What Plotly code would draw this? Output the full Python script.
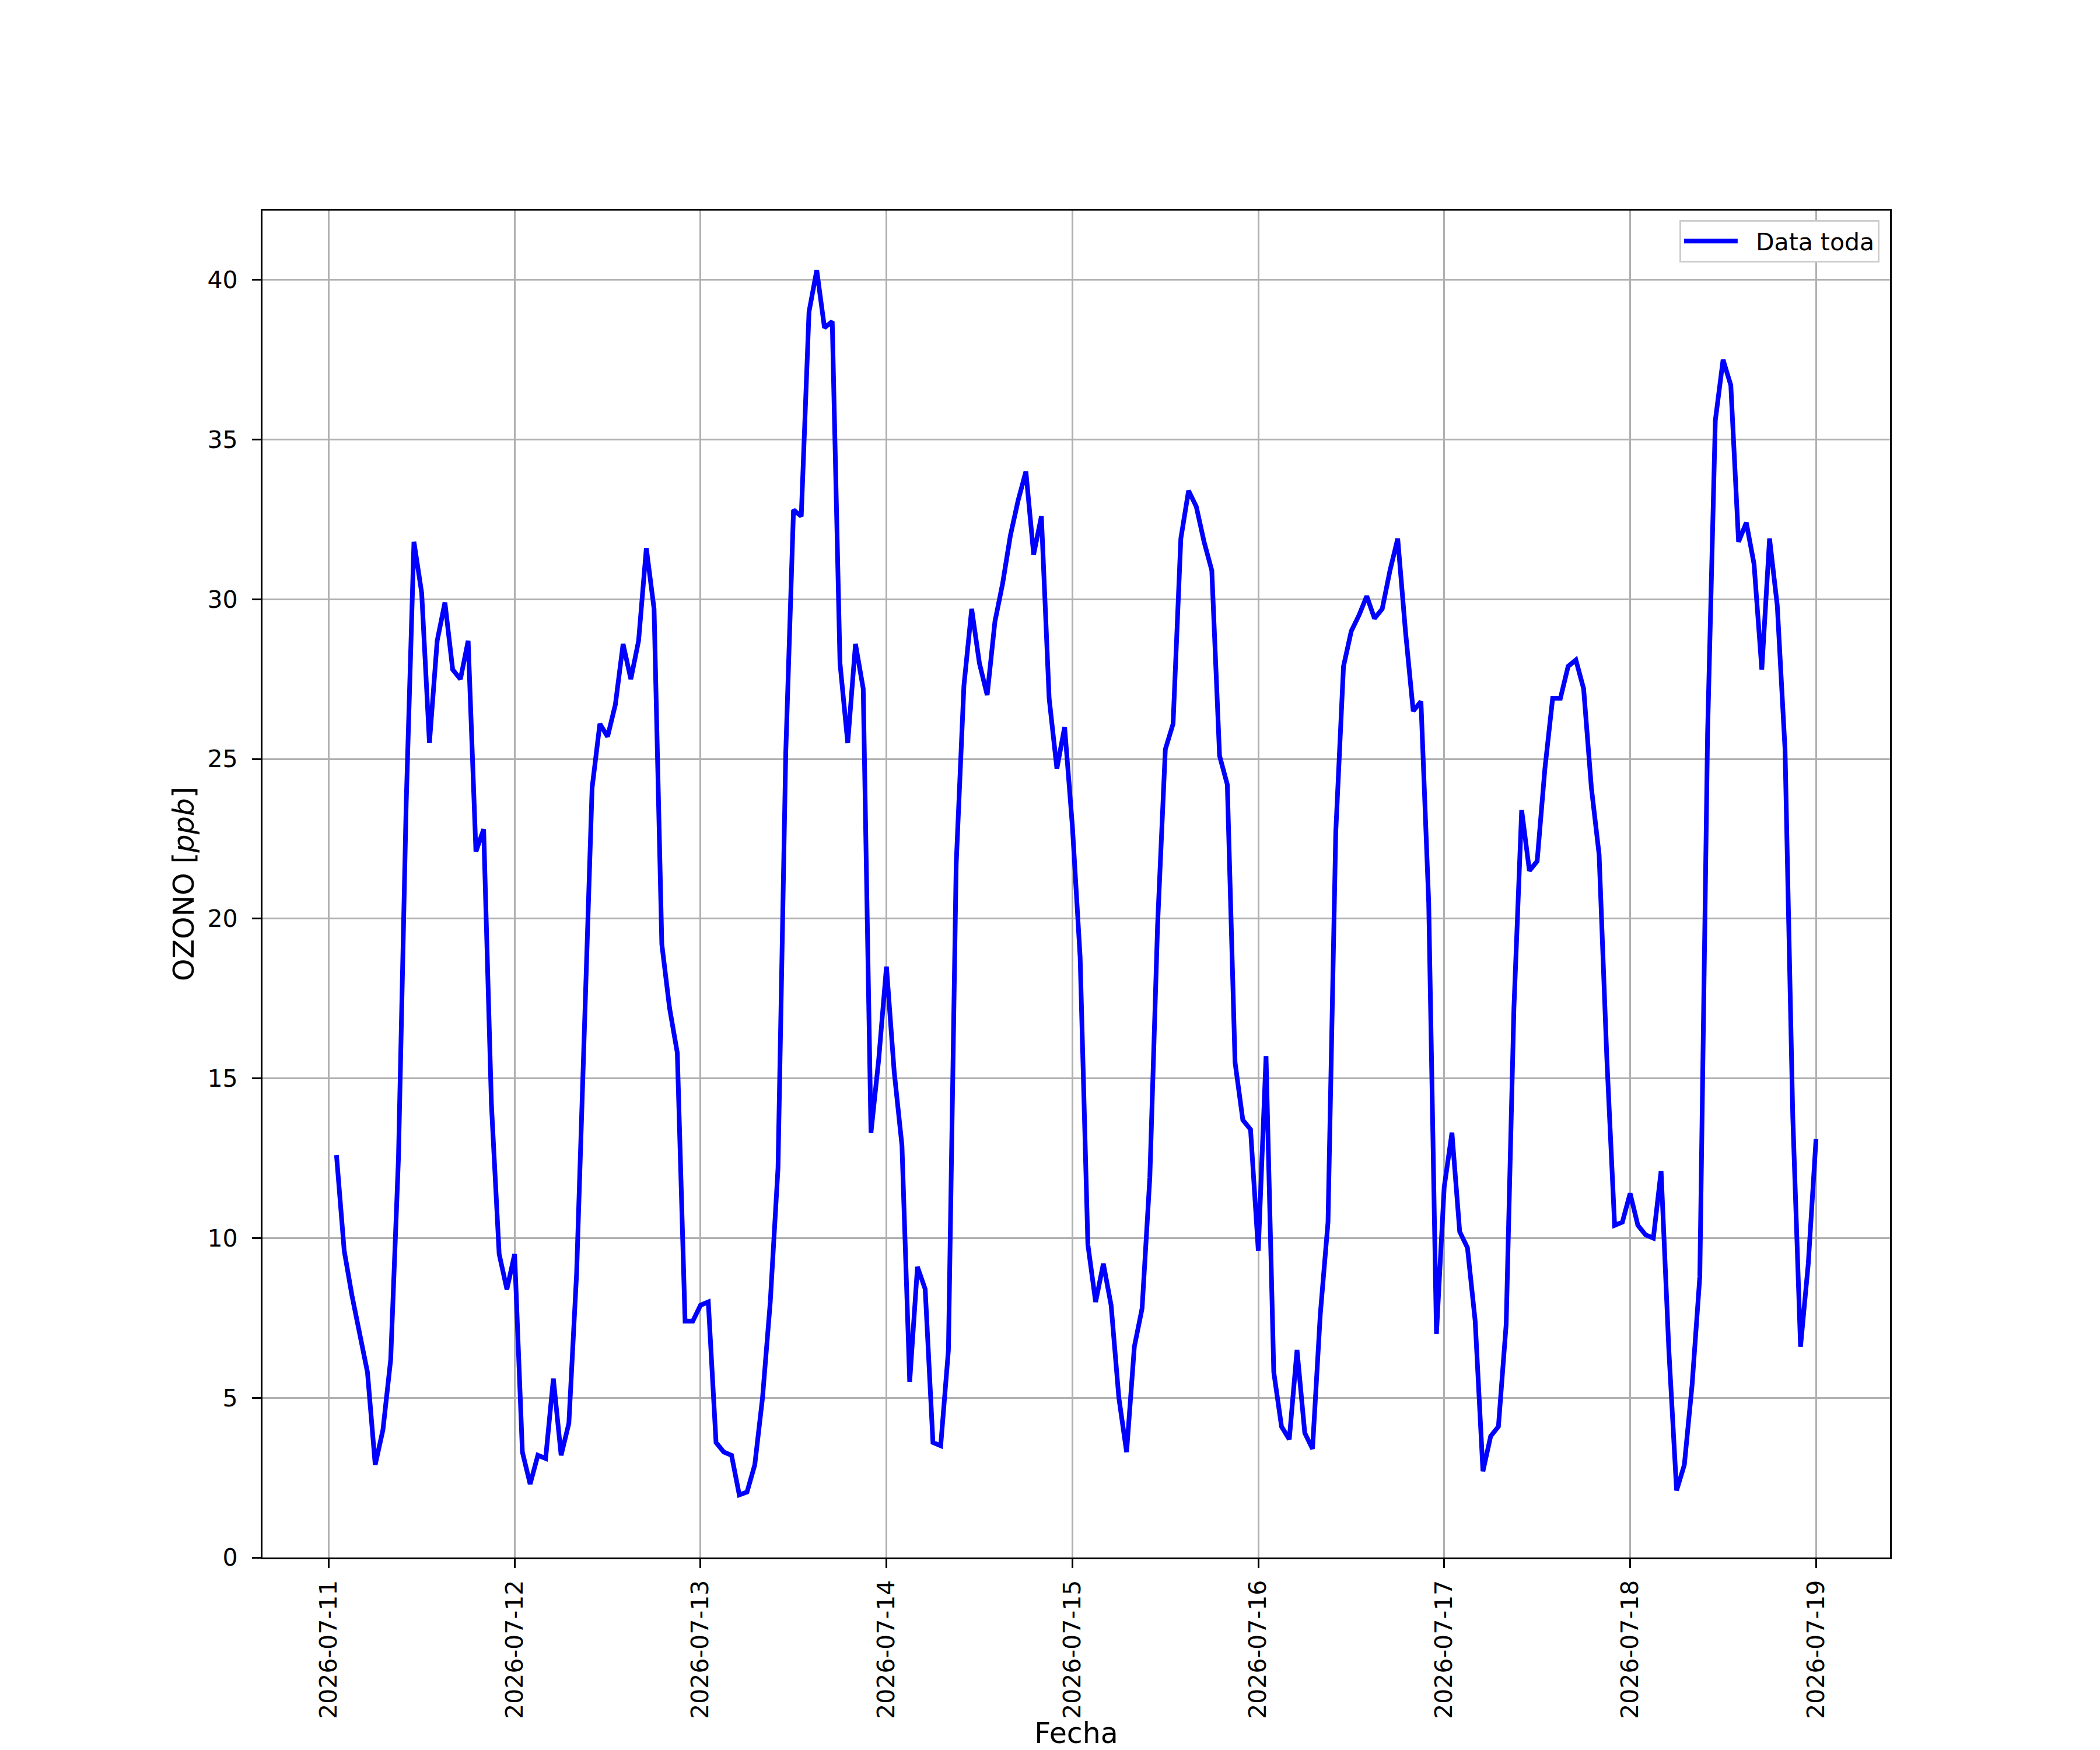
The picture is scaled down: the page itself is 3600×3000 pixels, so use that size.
import pandas as pd
import plotly.graph_objects as go

# hourly ozone readings, one list per day (01:00 .. 24:00)
ozono_0711 = [12.6, 9.6, 8.2, 7.0, 5.8, 2.9, 4.0, 6.2, 12.5, 23.6, 31.8, 30.2,
              25.5, 28.7, 29.9, 27.8, 27.5, 28.7, 22.1, 22.8, 14.2, 9.5, 8.4, 9.5]
ozono_0712 = [3.3, 2.3, 3.2, 3.1, 5.6, 3.2, 4.2, 8.9, 16.0, 24.1, 26.1, 25.7,
              26.7, 28.6, 27.5, 28.7, 31.6, 29.7, 19.2, 17.2, 15.8, 7.4, 7.4, 7.9]
ozono_0713 = [8.0, 3.6, 3.3, 3.2, 1.96, 2.05, 2.9, 5.0, 8.0, 12.2, 25.2, 32.8,
              32.6, 39.0, 40.3, 38.5, 38.7, 28.0, 25.5, 28.6, 27.2, 13.3, 15.6, 18.5]
ozono_0714 = [15.2, 12.9, 5.5, 9.1, 8.4, 3.6, 3.5, 6.5, 21.7, 27.3, 29.7, 28.0,
              27.0, 29.3, 30.5, 32.0, 33.1, 34.0, 31.4, 32.6, 26.9, 24.7, 26.0, 22.9]
ozono_0715 = [18.8, 9.8, 8.0, 9.2, 7.9, 5.0, 3.3, 6.6, 7.8, 11.9, 19.8, 25.3,
              26.1, 31.9, 33.4, 32.9, 31.8, 30.9, 25.1, 24.2, 15.5, 13.7, 13.4, 9.6]
ozono_0716 = [15.7, 5.8, 4.1, 3.7, 6.5, 3.9, 3.4, 7.6, 10.5, 22.7, 27.9, 29.0,
              29.5, 30.1, 29.4, 29.7, 30.9, 31.9, 29.0, 26.5, 26.8, 20.5, 7.0, 11.6]
ozono_0717 = [13.3, 10.2, 9.7, 7.4, 2.7, 3.8, 4.1, 7.3, 17.2, 23.4, 21.5, 21.8,
              24.7, 26.9, 26.9, 27.9, 28.1, 27.2, 24.1, 22.0, 15.6, 10.4, 10.5, 11.4]
ozono_0718 = [10.4, 10.1, 10.0, 12.1, 6.5, 2.1, 2.9, 5.4, 8.8, 25.8, 35.6, 37.5,
              36.7, 31.8, 32.4, 31.1, 27.8, 31.9, 29.8, 25.3, 13.8, 6.6, 9.2, 13.1]

ozono = (ozono_0711 + ozono_0712 + ozono_0713 + ozono_0714
         + ozono_0715 + ozono_0716 + ozono_0717 + ozono_0718)
fechas = pd.date_range("2026-07-11 01:00", periods=len(ozono), freq="h")

# matplotlib-like 5% padding on the time axis
span = fechas[-1] - fechas[0]
x_range = [fechas[0] - 0.05 * span, fechas[-1] + 0.05 * span]

fig = go.Figure()
fig.add_trace(go.Scatter(
    x=fechas, y=ozono, mode="lines", name="\u00a0\u00a0Data toda",
    line=dict(color="blue", width=8)
))

axis_style = dict(
    showline=True, mirror=True, linecolor="black", linewidth=3.3,
    showgrid=True, gridcolor="#b0b0b0", gridwidth=3.3, zeroline=False,
    ticks="outside", ticklen=15, tickwidth=3.3, tickcolor="black",
    tickfont=dict(size=41, color="black"), automargin=False,
)

fig.update_xaxes(
    **axis_style,
    range=x_range, tickformat="%Y-%m-%d", dtick=86400000,
    tick0="2026-07-11", tickangle=-90, ticklabelstandoff=4,
    title=dict(text="Fecha", font=dict(size=49, color="black"), standoff=24),
)
fig.update_yaxes(
    **axis_style,
    range=[0, 42.17], dtick=5, ticklabelstandoff=16,
    title=dict(text="OZONO [<i>ppb</i>]", font=dict(size=49, color="black"), standoff=8),
)

# the page adds an 8 px body margin, so the figure is a bit smaller than the window
fig.update_layout(
    width=3592, height=2992,
    margin=dict(l=442, r=360, t=353, b=330),
    paper_bgcolor="white", plot_bgcolor="white",
    font=dict(family="DejaVu Sans", color="black"),
    showlegend=True,
    legend=dict(
        x=0.9935, y=0.993, xanchor="right", yanchor="top",
        bgcolor="white", bordercolor="#cccccc", borderwidth=3,
        font=dict(size=41), itemwidth=92,
    ),
)

fig.write_html("out.html")
